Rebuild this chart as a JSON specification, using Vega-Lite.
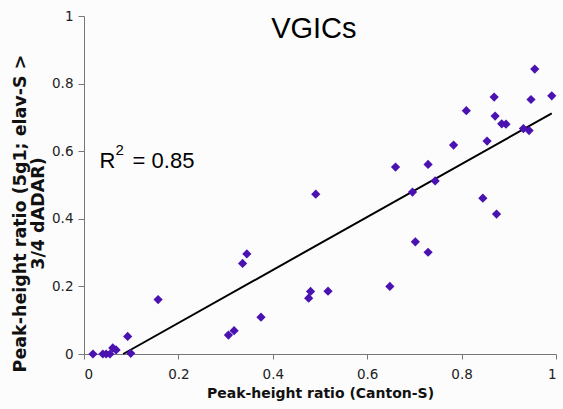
{
  "$schema": "https://vega.github.io/schema/vega-lite/v6.json",
  "width": 472,
  "height": 338,
  "autosize": {"type": "none"},
  "padding": {"left": 84, "top": 16, "right": 7, "bottom": 55},
  "background": "#fcfcfc",
  "config": {
    "view": {"stroke": null},
    "axis": {"grid": false, "domainColor": "#777777", "tickColor": "#777777", "labelFont": "DejaVu Sans", "labelFontSize": 13.5, "labelColor": "#222222", "titleFont": "DejaVu Sans", "titleColor": "#111111", "titleFontWeight": "bold"}
  },
  "datasets": {
    "points": [
      {"canton": 0.019, "ratio": 0.0},
      {"canton": 0.040, "ratio": 0.0},
      {"canton": 0.047, "ratio": 0.0},
      {"canton": 0.055, "ratio": 0.0},
      {"canton": 0.061, "ratio": 0.018},
      {"canton": 0.068, "ratio": 0.012},
      {"canton": 0.0925, "ratio": 0.052},
      {"canton": 0.099, "ratio": 0.002},
      {"canton": 0.157, "ratio": 0.161},
      {"canton": 0.306, "ratio": 0.056},
      {"canton": 0.318, "ratio": 0.069},
      {"canton": 0.336, "ratio": 0.268},
      {"canton": 0.345, "ratio": 0.296},
      {"canton": 0.375, "ratio": 0.109},
      {"canton": 0.476, "ratio": 0.165},
      {"canton": 0.480, "ratio": 0.185},
      {"canton": 0.491, "ratio": 0.473},
      {"canton": 0.517, "ratio": 0.186},
      {"canton": 0.648, "ratio": 0.200},
      {"canton": 0.660, "ratio": 0.553},
      {"canton": 0.696, "ratio": 0.479},
      {"canton": 0.702, "ratio": 0.332},
      {"canton": 0.729, "ratio": 0.561},
      {"canton": 0.729, "ratio": 0.301},
      {"canton": 0.744, "ratio": 0.512},
      {"canton": 0.783, "ratio": 0.618},
      {"canton": 0.810, "ratio": 0.720},
      {"canton": 0.845, "ratio": 0.461},
      {"canton": 0.854, "ratio": 0.630},
      {"canton": 0.869, "ratio": 0.760},
      {"canton": 0.871, "ratio": 0.704},
      {"canton": 0.874, "ratio": 0.414},
      {"canton": 0.885, "ratio": 0.681},
      {"canton": 0.894, "ratio": 0.680},
      {"canton": 0.931, "ratio": 0.667},
      {"canton": 0.943, "ratio": 0.661},
      {"canton": 0.947, "ratio": 0.753},
      {"canton": 0.955, "ratio": 0.843},
      {"canton": 0.991, "ratio": 0.764}
    ],
    "fit": [
      {"canton": 0.083, "ratio": 0.0},
      {"canton": 0.991, "ratio": 0.712}
    ]
  },
  "layer": [
    {
      "data": {"name": "fit"},
      "mark": {"type": "line", "color": "#000000", "strokeWidth": 2},
      "encoding": {
        "x": {"field": "canton", "type": "quantitative", "scale": {"domain": [0, 1], "nice": false},
          "axis": {"title": "Peak-height ratio (Canton-S)", "titleFontSize": 14, "values": [0, 0.2, 0.4, 0.6, 0.8, 1], "format": "~g", "tickSize": 5, "labelPadding": 8, "titlePadding": 6}},
        "y": {"field": "ratio", "type": "quantitative", "scale": {"domain": [0, 1], "nice": false},
          "axis": {"title": ["Peak-height ratio (5g1; elav-S >", "3/4 dADAR)"], "titleFontSize": 17.5, "titleLineHeight": 18, "values": [0, 0.2, 0.4, 0.6, 0.8, 1], "format": "~g", "tickSize": 6, "labelPadding": 5, "titlePadding": 4, "titleY": 197}}
      }
    },
    {
      "data": {"name": "points"},
      "mark": {"type": "point", "shape": "diamond", "filled": true, "size": 85, "color": "#4a12b0", "opacity": 1},
      "encoding": {
        "x": {"field": "canton", "type": "quantitative"},
        "y": {"field": "ratio", "type": "quantitative"}
      }
    },
    {
      "data": {"values": [{"label": "VGICs"}]},
      "mark": {"type": "text", "font": "Liberation Sans", "fontSize": 29, "align": "center", "baseline": "middle", "color": "#000000"},
      "encoding": {"text": {"field": "label"}, "x": {"datum": 0.487}, "y": {"datum": 0.962}}
    },
    {
      "data": {"values": [{"label": "R"}]},
      "mark": {"type": "text", "font": "Liberation Sans", "fontSize": 22, "align": "left", "baseline": "alphabetic", "color": "#000000"},
      "encoding": {"text": {"field": "label"}, "x": {"datum": 0.033}, "y": {"datum": 0.55}}
    },
    {
      "data": {"values": [{"label": "2"}]},
      "mark": {"type": "text", "font": "Liberation Sans", "fontSize": 15, "align": "left", "baseline": "alphabetic", "color": "#000000"},
      "encoding": {"text": {"field": "label"}, "x": {"datum": 0.067}, "y": {"datum": 0.589}}
    },
    {
      "data": {"values": [{"label": "= 0.85"}]},
      "mark": {"type": "text", "font": "Liberation Sans", "fontSize": 22, "align": "left", "baseline": "alphabetic", "color": "#000000"},
      "encoding": {"text": {"field": "label"}, "x": {"datum": 0.103}, "y": {"datum": 0.55}}
    }
  ]
}
